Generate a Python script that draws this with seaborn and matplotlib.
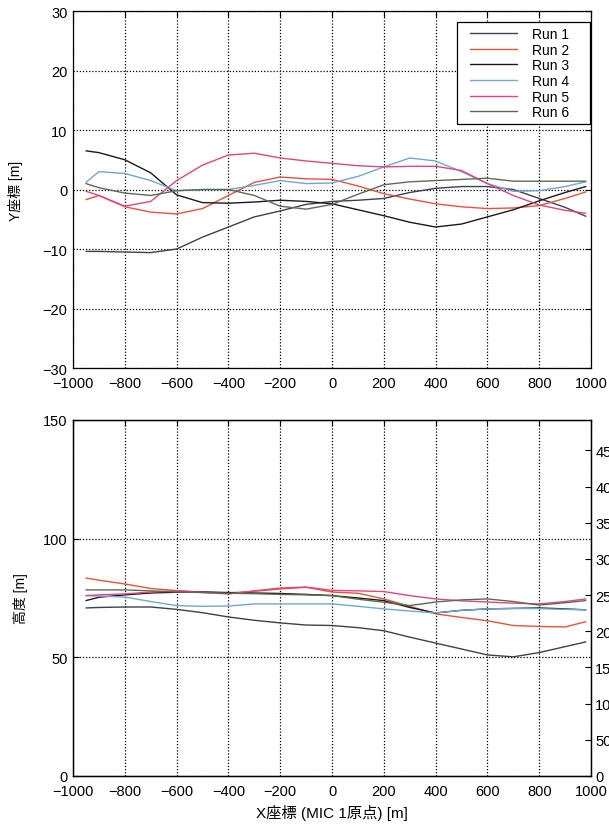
import numpy as np
import pandas as pd
import matplotlib
matplotlib.use("Agg")
import matplotlib.pyplot as plt
from matplotlib.legend_handler import HandlerLine2D
import seaborn as sns

# Sample positions along the X axis [m]
x_pos = [-950, -900, -800, -700, -600, -500, -400, -300, -200, -100, 0,
         100, 200, 300, 400, 500, 600, 700, 800, 900, 980]

runs = ["Run 1", "Run 2", "Run 3", "Run 4", "Run 5", "Run 6"]
colors = ["#3c4150", "#e5543a", "#1a1a1a", "#72a6d2", "#e0457c", "#5d6a52"]

# Lateral position Y [m]
y_run1 = [-10.4, -10.4, -10.5, -10.6, -10.0, -8.0, -6.3, -4.6, -3.6, -2.5, -2.0,
          -1.8, -1.5, -0.5, 0.2, 0.5, 0.5, 0.0, -1.5, -3.0, -4.5]
y_run2 = [-1.7, -1.0, -2.9, -3.8, -4.1, -3.2, -1.0, 1.2, 2.1, 1.8, 1.7,
          0.6, -0.7, -1.6, -2.4, -2.9, -3.2, -3.1, -2.7, -1.5, -0.4]
y_run3 = [6.5, 6.2, 5.0, 2.8, -0.9, -2.2, -2.3, -2.1, -1.8, -2.0, -2.4,
          -3.4, -4.4, -5.5, -6.3, -5.8, -4.6, -3.4, -1.9, -0.5, 0.5]
y_run4 = [1.2, 3.0, 2.7, 1.5, -0.2, 0.0, 0.0, 0.7, 1.5, 1.0, 1.1,
          2.2, 3.8, 5.3, 4.8, 3.0, 1.0, -0.3, -0.2, 0.5, 1.3]
y_run5 = [-0.3, -1.0, -2.8, -2.0, 1.5, 4.1, 5.8, 6.1, 5.3, 4.8, 4.4,
          4.0, 3.8, 3.9, 3.9, 3.2, 1.0, -1.0, -2.6, -3.5, -4.0]
y_run6 = [1.0, 0.3, -0.6, -1.0, -0.2, 0.0, 0.0, -1.0, -2.8, -3.3, -2.5,
          -0.8, 0.8, 1.3, 1.5, 1.7, 1.9, 1.4, 1.4, 1.4, 1.4]

# Altitude [m]
h_run1 = [70.8, 71.0, 71.2, 71.2, 70.2, 68.8, 67.0, 65.6, 64.5, 63.6, 63.4,
          62.5, 61.2, 58.5, 56.0, 53.5, 51.0, 50.2, 52.0, 54.5, 56.5]
h_run2 = [83.4, 82.5, 80.9, 79.0, 78.1, 77.5, 77.1, 77.8, 78.8, 79.5, 77.5,
          77.0, 74.6, 71.5, 68.3, 66.8, 65.4, 63.4, 63.0, 62.8, 65.0]
h_run3 = [73.9, 75.3, 76.3, 77.1, 77.4, 77.5, 77.3, 77.1, 76.9, 76.5, 76.0,
          75.0, 73.9, 71.0, 68.7, 69.8, 70.4, 70.6, 70.8, 70.4, 70.0]
h_run4 = [76.0, 75.8, 75.4, 73.5, 71.8, 71.5, 71.6, 72.5, 72.5, 72.5, 72.5,
          71.5, 70.4, 69.5, 68.7, 69.8, 70.4, 70.6, 70.5, 70.2, 70.0]
h_run5 = [76.0, 76.3, 76.7, 77.5, 78.0, 77.3, 76.7, 78.0, 79.2, 79.6, 78.2,
          78.0, 77.7, 76.0, 74.6, 73.8, 73.3, 72.8, 72.5, 73.5, 74.6]
h_run6 = [78.4, 78.4, 78.4, 78.0, 77.5, 77.3, 77.0, 76.8, 76.5, 76.3, 76.0,
          74.5, 73.2, 71.8, 73.3, 74.2, 74.6, 73.5, 72.0, 73.0, 73.9]

x_ticks = [-1000, -800, -600, -400, -200, 0, 200, 400, 600, 800, 1000]
y_ticks = [-30, -20, -10, 0, 10, 20, 30]
h_ticks = [0, 50, 100, 150]
ft_ticks = [0, 50, 100, 150, 200, 250, 300, 350, 400, 450]

y_series = [y_run1, y_run2, y_run3, y_run4, y_run5, y_run6]
h_series = [h_run1, h_run2, h_run3, h_run4, h_run5, h_run6]

df = pd.concat(
    [pd.DataFrame({"x": x_pos, "y": ys, "h": hs, "run": r})
     for r, ys, hs in zip(runs, y_series, h_series)],
    ignore_index=True,
)

sns.set_style("white")
plt.rcParams["font.family"] = ["Liberation Sans", "Noto Sans CJK JP", "DejaVu Sans"]
plt.rcParams["font.size"] = 10
plt.rcParams["text.color"] = "black"
plt.rcParams["axes.labelcolor"] = "black"
plt.rcParams["xtick.color"] = "black"
plt.rcParams["ytick.color"] = "black"
palette = dict(zip(runs, colors))

fig = plt.figure(figsize=(6.09, 8.28), dpi=100)
ax1 = fig.add_axes([0.1199, 0.5543, 0.8506, 0.4312])
ax2 = fig.add_axes([0.1199, 0.0616, 0.8506, 0.4300])

grid_kw = dict(color="black", linestyle=(0, (1, 1.5)), linewidth=0.9)


def style(ax):
    ax.set_xlim(-1000, 1000)
    ax.set_xticks(x_ticks)
    ax.grid(True, **grid_kw)
    ax.tick_params(direction="in", length=4, top=True, right=True,
                   labelsize=10.5, colors="black", pad=4)
    ax.tick_params(axis="x", pad=6)
    for s in ax.spines.values():
        s.set_color("black")
        s.set_linewidth(0.9)
    ax.set_axisbelow(True)


class InsetLine(HandlerLine2D):
    """Legend line sample that leaves some blank space on its left."""

    def get_xdata(self, legend, xdescent, ydescent, width, height, fontsize):
        xd, xm = super().get_xdata(legend, xdescent, ydescent, width, height, fontsize)
        start = -xdescent + 0.16 * width
        return np.array([start, -xdescent + width]), xm


# Top: lateral deviation
sns.lineplot(data=df, x="x", y="y", hue="run", palette=palette,
             linewidth=1.0, ax=ax1, sort=False, estimator=None)
style(ax1)
ax1.set_ylim(-30, 30)
ax1.set_yticks(y_ticks)
ax1.set_xlabel("")
ax1.set_ylabel("Y座標 [m]", fontsize=10, labelpad=14)
handles, labels = ax1.get_legend_handles_labels()
leg = ax1.legend(handles, [lab + "    " for lab in labels],
                 loc="upper right", bbox_to_anchor=(0.998, 1 - 11 / 357),
                 frameon=True, fancybox=False, edgecolor="black", fontsize=10,
                 handlelength=4.0, labelspacing=0.12, borderpad=0.35,
                 borderaxespad=0.0, handletextpad=1.1,
                 handler_map={h: InsetLine() for h in handles})
leg.get_frame().set_linewidth(0.9)
leg.get_frame().set_facecolor("white")
leg.get_frame().set_alpha(1.0)

# Bottom: altitude, with a feet scale on the right
sns.lineplot(data=df, x="x", y="h", hue="run", palette=palette,
             linewidth=1.0, ax=ax2, sort=False, estimator=None, legend=False)
style(ax2)
ax2.set_ylim(0, 150)
ax2.set_yticks(h_ticks)
ax2.tick_params(right=False)
ax2.set_ylabel("高度 [m]", fontsize=10, labelpad=11)
ax2.set_xlabel("X座標 (MIC 1原点) [m]", fontsize=11, labelpad=4)

ax2r = ax2.twinx()
ax2r.set_ylim(0, 150 / 0.3048)
ax2r.set_yticks(ft_ticks)
ax2r.tick_params(direction="in", length=4, labelsize=10.5, colors="black", pad=3)
ax2r.grid(False)
for s in ax2r.spines.values():
    s.set_color("black")
    s.set_linewidth(0.9)

fig.savefig("out.png", dpi=100)
